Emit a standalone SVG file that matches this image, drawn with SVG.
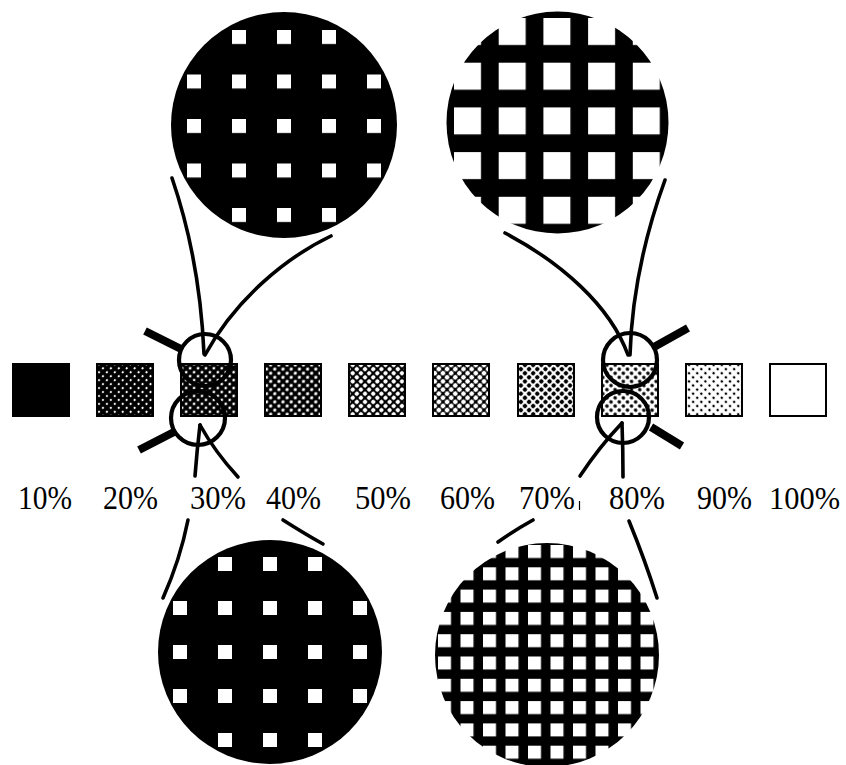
<svg xmlns="http://www.w3.org/2000/svg" width="846" height="765" viewBox="0 0 846 765">
<style>
.sq{stroke:#000;stroke-width:2}
.lbl{font-family:"Liberation Serif","DejaVu Serif",serif;font-size:34px;fill:#000}
.ln{fill:none;stroke:#000;stroke-width:3.6;stroke-linecap:round}
.ring{fill:none;stroke:#000;stroke-width:4.2}
.hdl{fill:none;stroke:#000;stroke-width:8;stroke-linecap:butt}
</style>
<defs>
<pattern id="h20" width="5.6" height="5.6" patternUnits="userSpaceOnUse" patternTransform="rotate(45)"><rect width="5.6" height="5.6" fill="#000"/><circle cx="2.8" cy="2.8" r="1.1" fill="#fff"/></pattern>
<pattern id="h30" width="5.6" height="5.6" patternUnits="userSpaceOnUse" patternTransform="rotate(45)"><rect width="5.6" height="5.6" fill="#000"/><circle cx="2.8" cy="2.8" r="1.35" fill="#fff"/></pattern>
<pattern id="h40" width="5.8" height="5.8" patternUnits="userSpaceOnUse" patternTransform="rotate(45)"><rect width="5.8" height="5.8" fill="#000"/><circle cx="2.9" cy="2.9" r="1.6" fill="#fff"/></pattern>
<pattern id="h50" width="5.8" height="5.8" patternUnits="userSpaceOnUse" patternTransform="rotate(45)"><rect width="5.8" height="5.8" fill="#000"/><circle cx="2.9" cy="2.9" r="2.1" fill="#fff"/></pattern>
<pattern id="h60" width="5.8" height="5.8" patternUnits="userSpaceOnUse" patternTransform="rotate(45)"><rect width="5.8" height="5.8" fill="#000"/><circle cx="2.9" cy="2.9" r="2.35" fill="#fff"/></pattern>
<pattern id="h70" width="5.8" height="5.8" patternUnits="userSpaceOnUse" patternTransform="rotate(45)"><rect width="5.8" height="5.8" fill="#fff"/><circle cx="2.9" cy="2.9" r="2.15" fill="#000"/></pattern>
<pattern id="h80" width="5.8" height="5.8" patternUnits="userSpaceOnUse" patternTransform="rotate(45)"><rect width="5.8" height="5.8" fill="#fff"/><circle cx="2.9" cy="2.9" r="1.8" fill="#000"/></pattern>
<pattern id="h90" width="5.8" height="5.8" patternUnits="userSpaceOnUse" patternTransform="rotate(45)"><rect width="5.8" height="5.8" fill="#fff"/><circle cx="2.9" cy="2.9" r="1.3" fill="#000"/></pattern>
<pattern id="gTL" x="187" y="30" width="45" height="44.5" patternUnits="userSpaceOnUse"><rect width="45" height="44.5" fill="#000"/><rect width="14" height="14" fill="#fff"/></pattern>
<pattern id="gBL" x="173" y="557" width="45" height="44" patternUnits="userSpaceOnUse"><rect width="45" height="44" fill="#000"/><rect width="14" height="14" fill="#fff"/></pattern>
<pattern id="gTR" x="454" y="18" width="44.7" height="44.7" patternUnits="userSpaceOnUse"><rect width="44.7" height="44.7" fill="#000"/><rect width="27" height="27" fill="#fff"/></pattern>
<pattern id="gBR" x="438" y="545" width="22.5" height="22.3" patternUnits="userSpaceOnUse"><rect width="22.5" height="22.3" fill="#000"/><rect width="13" height="13" fill="#fff"/></pattern>
</defs>
<rect width="846" height="765" fill="#fff"/>

<g id="swatches">
<g id="s10"><rect class="sq" x="13" y="364" width="56" height="52" fill="#000"/><text class="lbl" x="18" y="509" textLength="54" lengthAdjust="spacingAndGlyphs">10%</text></g>
<g id="s20"><rect class="sq" x="97" y="364" width="56" height="52" fill="url(#h20)"/><text class="lbl" x="103" y="509" textLength="55" lengthAdjust="spacingAndGlyphs">20%</text></g>
<g id="s30"><rect class="sq" x="181" y="364" width="56" height="52" fill="url(#h30)"/><text class="lbl" x="190" y="509" textLength="56" lengthAdjust="spacingAndGlyphs">30%</text></g>
<g id="s40"><rect class="sq" x="265" y="364" width="56" height="52" fill="url(#h40)"/><text class="lbl" x="266" y="509" textLength="55" lengthAdjust="spacingAndGlyphs">40%</text></g>
<g id="s50"><rect class="sq" x="349" y="364" width="56" height="52" fill="url(#h50)"/><text class="lbl" x="355" y="509" textLength="56" lengthAdjust="spacingAndGlyphs">50%</text></g>
<g id="s60"><rect class="sq" x="433" y="364" width="56" height="52" fill="url(#h60)"/><text class="lbl" x="440" y="509" textLength="55" lengthAdjust="spacingAndGlyphs">60%</text></g>
<g id="s70"><rect class="sq" x="518" y="364" width="56" height="52" fill="url(#h70)"/><text class="lbl" x="519" y="509" textLength="56" lengthAdjust="spacingAndGlyphs">70%</text><line x1="579.5" y1="501" x2="579.5" y2="510" stroke="#000" stroke-width="1.2"/></g>
<g id="s80"><rect class="sq" x="602" y="364" width="56" height="52" fill="url(#h80)"/><text class="lbl" x="609" y="509" textLength="56" lengthAdjust="spacingAndGlyphs">80%</text></g>
<g id="s90"><rect class="sq" x="686" y="364" width="56" height="52" fill="url(#h90)"/><text class="lbl" x="697" y="509" textLength="55" lengthAdjust="spacingAndGlyphs">90%</text></g>
<g id="s100"><rect class="sq" x="770" y="364" width="56" height="52" fill="#fff"/><text class="lbl" x="769" y="509" font-size="32" textLength="71" lengthAdjust="spacingAndGlyphs" style="font-size:32px">100%</text></g>
</g>

<g id="zoomTL"><circle cx="284" cy="125" r="113" fill="url(#gTL)"/></g>
<g id="zoomTR"><circle cx="557.5" cy="122.5" r="111" fill="url(#gTR)"/></g>
<g id="zoomBL"><circle cx="270" cy="652" r="112" fill="url(#gBL)"/></g>
<g id="zoomBR"><circle cx="547" cy="655" r="112" fill="url(#gBR)"/></g>

<g id="lensUL"><circle class="ring" cx="205" cy="360" r="26"/><line class="hdl" x1="145" y1="331" x2="181" y2="349"/></g>
<g id="lensLL"><circle class="ring" cx="198" cy="418" r="27"/><line class="hdl" x1="139" y1="450" x2="174" y2="432"/></g>
<g id="lensUR"><circle class="ring" cx="630" cy="360" r="27"/><line class="hdl" x1="654" y1="347" x2="688" y2="328"/></g>
<g id="lensLR"><circle class="ring" cx="623" cy="417" r="26"/><line class="hdl" x1="651" y1="427" x2="682" y2="446"/></g>

<g id="connectors">
<path class="ln" d="M172,178 Q200,260 204,354"/>
<path class="ln" d="M331,236 C285,258 235,300 205,355"/>
<path class="ln" d="M200,425 Q197,450 195,476"/>
<path class="ln" d="M200,425 Q215,452 238,477"/>
<path class="ln" d="M188,520 Q180,560 163,598"/>
<path class="ln" d="M283,520 Q305,534 323,544"/>
<path class="ln" d="M505,233 C560,262 610,305 628,355"/>
<path class="ln" d="M665,180 C645,235 632,290 630,355"/>
<path class="ln" d="M622,423 Q623,450 623,477"/>
<path class="ln" d="M622,423 Q600,446 580,476"/>
<path class="ln" d="M533,520 Q515,530 498,542"/>
<path class="ln" d="M629,521 Q645,560 657,598"/>
</g>
</svg>
